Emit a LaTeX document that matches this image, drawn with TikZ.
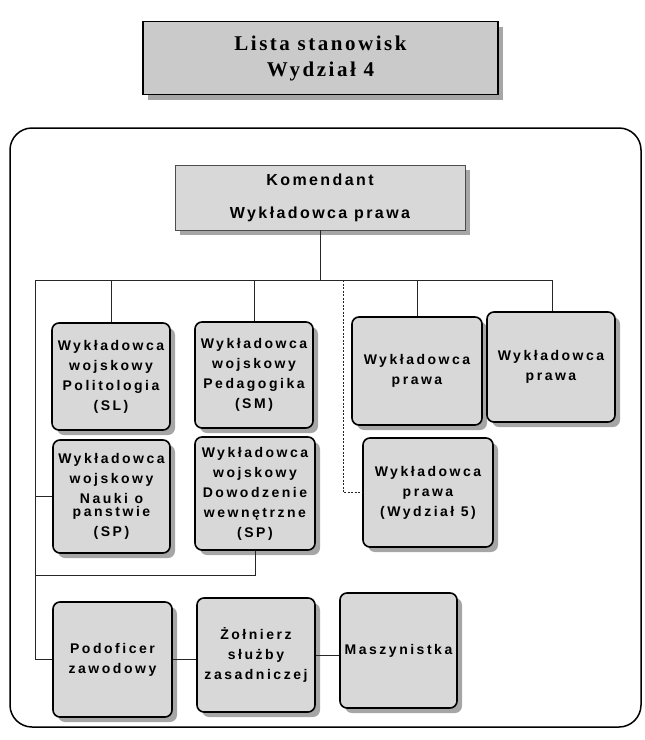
\documentclass[tikz,border=0pt]{standalone}
\usepackage{fontspec}
\usetikzlibrary{shadows}
\newfontfamily\boxsans[LetterSpace=18]{Liberation Sans}
\newfontfamily\komsans[LetterSpace=15]{Liberation Sans}
\newfontfamily\titleserif[LetterSpace=12]{Liberation Serif}
\definecolor{boxgray}{HTML}{D8D8D8}
\definecolor{titlegray}{HTML}{CACACA}
\definecolor{shadowgray}{HTML}{A6A6A6}
\tikzset{
  shad/.style={drop shadow={shadow xshift=5pt, shadow yshift=-5pt, fill=shadowgray, opacity=1}},
  box/.style={draw=black, line width=1.6pt, rounded corners=7pt, fill=boxgray, align=center,
    inner sep=2pt, font=\boxsans\bfseries\fontsize{14pt}{20pt}\selectfont, shad},
  link/.style={draw=black!85, line width=0.6pt},
}
\begin{document}
\begin{tikzpicture}[x=1pt,y=-1pt]
\useasboundingbox (0,0) rectangle (645,740);
% title
\node[draw=black, line width=1.2pt, fill=titlegray, shad, minimum width=355pt, minimum height=73pt,
  align=center, font=\titleserif\bfseries\fontsize{21pt}{26pt}\selectfont] (title) at (320.5,58)
  {Lista stanowisk\\Wydział 4};
% frame
\draw[line width=1.5pt, rounded corners=22pt] (10,128) rectangle (641,727);
% komendant
\node[draw=black!70, line width=0.8pt, fill=boxgray, shad, minimum width=290pt, minimum height=65pt,
  align=center, font=\komsans\bfseries\fontsize{16pt}{33pt}\selectfont] (kom) at (320,197.5)
  {Komendant\\Wykładowca prawa};
% boxes
\node[box, minimum width=118pt, minimum height=107pt] (pol) at (111,376.5)
  {Wykładowca\\wojskowy\\Politologia\\(SL)};
\node[box, minimum width=118pt, minimum height=106pt] (ped) at (254,375)
  {Wykładowca\\wojskowy\\Pedagogika\\(SM)};
\node[box, minimum width=130pt, minimum height=108pt] (pr1) at (417,371)
  {Wykładowca\\prawa};
\node[box, minimum width=128pt, minimum height=110pt] (pr2) at (551,367)
  {Wykładowca\\prawa};
\node[box, minimum width=117pt, minimum height=113pt] (nauki) at (111.5,496.5)
  {Wykładowca\\wojskowy\\Nauki o\\[-7pt]panstwie\\(SP)};
\node[box, minimum width=120pt, minimum height=113pt] (dow) at (255,493.5)
  {Wykładowca\\wojskowy\\Dowodzenie\\wewnętrzne\\(SP)};
\node[box, minimum width=130pt, minimum height=109pt] (wy5) at (428,492.5)
  {Wykładowca\\prawa\\(Wydział 5)};
\node[box, minimum width=119pt, minimum height=115pt] (pod) at (112.5,659.5)
  {Podoficer\\zawodowy};
\node[box, minimum width=118pt, minimum height=114pt] (zol) at (256,655)
  {Żołnierz\\służby\\zasadniczej};
\node[box, minimum width=117pt, minimum height=115pt] (masz) at (398.5,650.5)
  {Maszynistka};
% connectors
\coordinate (bL) at (35,280);
\coordinate (bR) at (552,280);
\coordinate (dtop) at (343,280);
\coordinate (dL) at (35,575);
\draw[link] (kom.south) -- (kom.south |- bL);
\draw[link] (bL) -- (bR);
\draw[link] (bR) -- (pr2.north -| bR);
\draw[link] (pol.north |- bL) -- (pol.north);
\draw[link] (ped.north |- bL) -- (ped.north);
\draw[link] (pr1.north |- bL) -- (pr1.north);
\draw[link, dash pattern=on 2pt off 1.5pt] (dtop) |- (wy5.west);
\draw[link] (bL) |- (pod.west);
\draw[link] (nauki.west -| bL) -- (nauki.west);
\draw[link] (dow.south) |- (dL);
\draw[link] (pod.east) -- (pod.east -| zol.west);
\draw[link] (zol.east) -- (zol.east -| masz.west);
\end{tikzpicture}
\end{document}
